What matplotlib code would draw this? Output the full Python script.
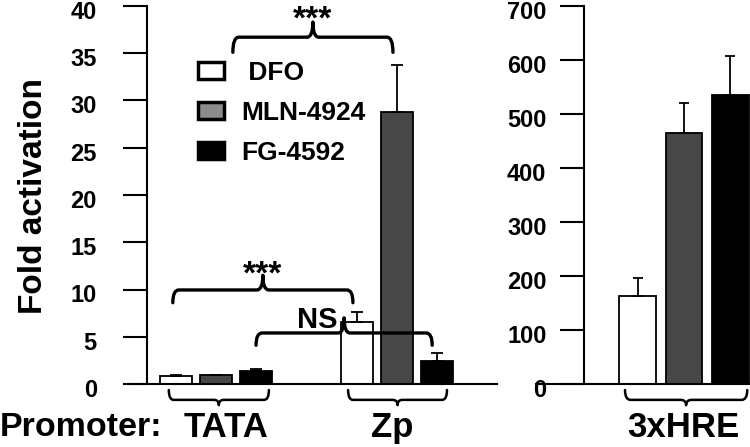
import numpy as np
import matplotlib
matplotlib.use("Agg")
import matplotlib.pyplot as plt
import matplotlib.transforms as mtransforms
from matplotlib.path import Path
from matplotlib.patches import PathPatch, Patch

plt.rcParams['font.family'] = ['Liberation Sans', 'DejaVu Sans']
plt.rcParams['font.weight'] = 'bold'

# ---- Data ----
treatments = [' DFO', 'MLN-4924', 'FG-4592']
bar_colors = ['white', '#474747', 'black']
legend_colors = ['white', '#8c8c8c', 'black']

tata_mean = [0.8, 0.9, 1.4]
tata_err = [0.15, 0.05, 0.15]
zp_mean = [6.6, 28.8, 2.4]
zp_err = [1.0, 5.0, 0.9]
hre_mean = [163, 465, 535]
hre_err = [33, 55, 72]

left_ticks = np.arange(0, 41, 5)
right_ticks = np.arange(0, 701, 100)

sig_labels = ['***', '***', 'NS']


def brace(ax, x0, x1, y, y_end, y_tip=None, r=0.15, transform=None, lw=2.4):
    """Curly bracket from x0 to x1 at height y, hooks to y_end, tip to y_tip."""
    xm = (x0 + x1) / 2
    verts = [(x0, y_end), (x0, y), (x0 + r, y)]
    codes = [Path.MOVETO, Path.CURVE3, Path.CURVE3]
    if y_tip is not None:
        verts += [(xm - r, y), (xm, y), (xm, y_tip), (xm, y), (xm + r, y)]
        codes += [Path.LINETO, Path.CURVE3, Path.CURVE3, Path.CURVE3, Path.CURVE3]
    verts += [(x1 - r, y), (x1, y), (x1, y_end)]
    codes += [Path.LINETO, Path.CURVE3, Path.CURVE3]
    ax.add_patch(PathPatch(Path(verts, codes), fill=False, lw=lw, color='black',
                           capstyle='round', joinstyle='round', clip_on=False,
                           zorder=4, transform=transform or ax.transData))


fig = plt.figure(figsize=(7.5, 4.47), dpi=100)
W, H = 750, 447
ax1 = fig.add_axes([130 / W, (H - 384) / H, 367 / W, 378 / H])
ax2 = fig.add_axes([536 / W, (H - 384) / H, 214 / W, 378 / H])

tata_x = np.array([0, 1, 2])
zp_x = np.array([4.5, 5.5, 6.5])
hre_x = np.array([0, 1, 2])

for xs, m, e in [(tata_x, tata_mean, tata_err), (zp_x, zp_mean, zp_err)]:
    ax1.bar(xs, m, width=0.8, color=bar_colors, edgecolor='black', lw=1.3, zorder=2)
    ax1.errorbar(xs, m, yerr=[np.zeros(3), e], fmt='none', ecolor='black',
                 elinewidth=1.3, capsize=4, capthick=1.3, zorder=3)
ax2.bar(hre_x, hre_mean, width=0.8, color=bar_colors, edgecolor='black', lw=1.3, zorder=2)
ax2.errorbar(hre_x, hre_mean, yerr=[np.zeros(3), hre_err], fmt='none', ecolor='black',
             elinewidth=1.3, capsize=3.5, capthick=1.3, zorder=3)

ax1.set_xlim(-1.16, 8.01)
ax1.set_ylim(0, 40)
ax2.set_xlim(-2.21, 2.43)
ax2.set_ylim(0, 700)
ax1.set_yticks(left_ticks)
ax2.set_yticks(right_ticks)

for ax in (ax1, ax2):
    ax.set_xticks([])
    for s in ('top', 'right'):
        ax.spines[s].set_visible(False)
    ax.spines['left'].set_linewidth(1.5)
    ax.spines['bottom'].set_linewidth(1.5)
    ax.patch.set_alpha(0)
ax1.spines['left'].set_position(('data', -0.74))
ax2.spines['left'].set_position(('data', -1.17))
ax1.tick_params(axis='y', length=17, width=1.5, pad=19, labelsize=17)
ax2.tick_params(axis='y', length=17, width=1.5, pad=10, labelsize=17)
ax2.set_zorder(-1)

# tick labels sit a few pixels below their ticks in the original
shift = mtransforms.ScaledTranslation(0, -4 / 100, fig.dpi_scale_trans)
for ax in (ax1, ax2):
    for tk in ax.yaxis.get_major_ticks():
        tk.label1.set_transform(tk.label1.get_transform() + shift)

# legend
handles = [Patch(facecolor=c, edgecolor='black', lw=2.5) for c in legend_colors]
ax1.legend(handles, treatments, loc='upper left', bbox_to_anchor=(0.156, 0.882),
           frameon=False, fontsize=19, handlelength=1.0, handleheight=0.6,
           labelspacing=0.6, handletextpad=0.65, borderaxespad=0)

# significance brackets
brace(ax1, 1.41, 5.41, 36.7, 35.1, 38.3)
ax1.text(3.41, 37.6, sig_labels[0], ha='center', va='baseline', fontsize=24, clip_on=False)
brace(ax1, -0.09, 4.41, 9.95, 8.6, 11.5)
ax1.text(2.16, 10.6, sig_labels[1], ha='center', va='baseline', fontsize=24)
brace(ax1, 1.99, 6.39, 5.4, 4.1, 7.0)
ax1.text(3.51, 6.8, sig_labels[2], ha='center', va='center', fontsize=21)

# promoter group brackets below axis
for ax, x0, x1, lab, lx in [(ax1, -0.19, 2.31, 'TATA', 1.25),
                            (ax1, 4.29, 6.76, 'Zp', 5.4),
                            (ax2, -0.28, 2.37, '3xHRE', 0.98)]:
    brace(ax, x0, x1, -0.042, -0.016, -0.056, r=0.12,
          transform=ax.get_xaxis_transform(), lw=1.8)
    ax.text(lx, -0.114, lab, transform=ax.get_xaxis_transform(), ha='center',
            va='center', fontsize=25)

fig.text(0.0, (H - 427) / H, 'Promoter:', ha='left', va='center', fontsize=24.5)
fig.text(34 / W, (H - 196) / H, 'Fold activation', rotation=90, ha='center',
         va='center', fontsize=24)

fig.savefig('out.png', dpi=100)
